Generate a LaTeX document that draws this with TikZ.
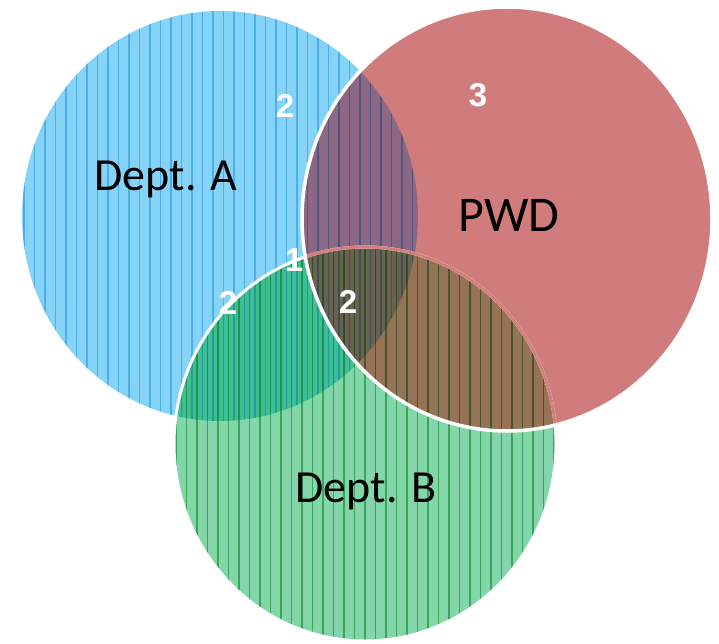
\documentclass[tikz,border=0pt]{standalone}
\usepackage{fontspec}
\setmainfont{Carlito}
\newfontfamily\numfont{Liberation Sans}
\definecolor{cA}{RGB}{133,211,246}
\definecolor{cP}{RGB}{208,124,124}
\definecolor{cB}{RGB}{130,214,170}
\definecolor{cAP}{RGB}{140,104,132}
\definecolor{cAB}{RGB}{62,190,150}
\definecolor{cPB}{RGB}{150,114,86}
\definecolor{cAPB}{RGB}{106,98,80}
\definecolor{sA}{RGB}{150,210,245}
\definecolor{sB}{RGB}{120,198,130}
\definecolor{pinkline}{RGB}{212,126,126}
\begin{document}
\begin{tikzpicture}[x=1pt,y=-1pt,
  lbl/.style={anchor=base,inner sep=0pt,font=\fontsize{46}{46}\selectfont},
  num/.style={anchor=base,inner sep=0pt,text=white,font=\numfont\bfseries\fontsize{33}{33}\selectfont}]
\def\pA{(220,216) ellipse [x radius=198pt, y radius=205pt]}
\def\pP{(507,219) ellipse [x radius=205pt, y radius=212pt]}
\def\pB{(365,444) ellipse [x radius=191pt, y radius=197pt]}
\useasboundingbox (0,0) rectangle (719,644);
\fill[white] (0,0) rectangle (719,644);
% base fills
\fill[cA] \pA;
\fill[cP] \pP;
\fill[cB] \pB;
\begin{scope}\clip \pA; \fill[cAP] \pP; \end{scope}
\begin{scope}\clip \pA; \fill[cAB] \pB; \end{scope}
\begin{scope}\clip \pP; \fill[cPB] \pB; \end{scope}
\begin{scope}\clip \pA; \clip \pP; \fill[cAPB] \pB; \end{scope}
% stripes
\begin{scope}
  \clip \pA;
  \begin{scope}[blend mode=multiply]
    \foreach \i in {0,...,38} \draw[sA,line width=1.2pt] (24+10.5*\i,0) -- (24+10.5*\i,644);
  \end{scope}
\end{scope}
\begin{scope}
  \clip \pB;
  \begin{scope}[blend mode=multiply]
    \foreach \i in {0,...,37} \draw[sB,line width=1.2pt] (176+10.5*\i,0) -- (176+10.5*\i,644);
  \end{scope}
\end{scope}
% outlines
\begin{scope}
  \clip (0,0) rectangle (719,644) \pP;
  \draw[white,line width=3pt] \pB;
\end{scope}
\begin{scope}
  \clip \pP;
  \draw[pinkline,line width=3pt] \pB;
\end{scope}
\draw[white,line width=3.5pt] \pP;
% labels
\node[lbl] (deptA) at (166,191) {Dept. A};
\node[lbl,font=\fontsize{50}{50}\selectfont] (pwd) at (509,232) {PWD};
\node[lbl] (deptB) at (366,502) {Dept. B};
\node[num] (nA) at (285,118) {2};
\node[num] (nP) at (478,107) {3};
\node[num] (nAPB) at (294,271) {1};
\node[num] (nAB) at (228,314) {2};
\node[num] (nPB) at (348,313) {2};
\end{tikzpicture}
\end{document}
